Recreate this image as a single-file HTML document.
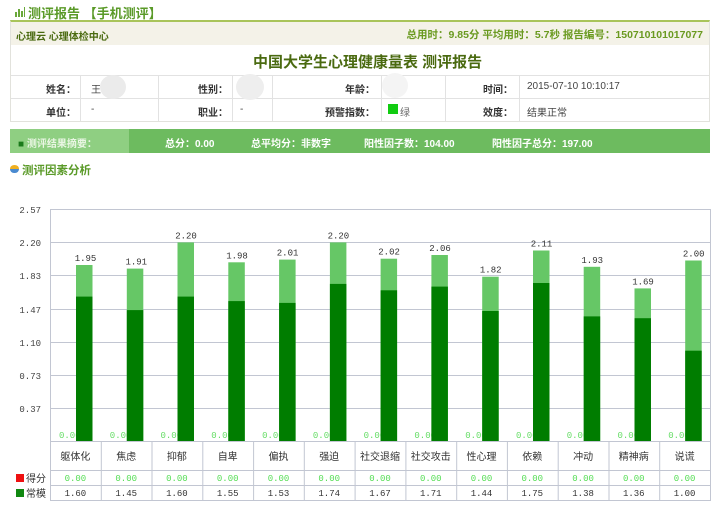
<!DOCTYPE html>
<html><head><meta charset="utf-8">
<style>
*{margin:0;padding:0;box-sizing:border-box}
body{width:725px;height:512px;background:#fff;position:relative;overflow:hidden;font-family:"Liberation Sans","Noto Sans CJK SC",sans-serif;}
.a{position:absolute;white-space:nowrap}
.lb{font-size:10px;font-weight:bold;color:#333;text-align:right}
.vl{font-size:10px;color:#444}
</style></head><body>
<!-- header -->
<div class="a" style="left:15px;top:7px;width:10px;height:10px">
  <div class="a" style="left:0;top:5px;width:2px;height:5px;background:#6aa83a"></div>
  <div class="a" style="left:3px;top:2px;width:2px;height:8px;background:#6aa83a"></div>
  <div class="a" style="left:6px;top:4px;width:2px;height:6px;background:#6aa83a"></div>
  <div class="a" style="left:9px;top:0px;width:1px;height:10px;background:#6aa83a"></div>
</div>
<div class="a" style="left:28px;top:3px;font-size:13px;font-weight:bold;color:#5a9a28">测评报告 【手机测评】</div>

<!-- info box -->
<div class="a" style="left:10px;top:20px;width:700px;height:102px;border:1px solid #e2e2dc;border-top:2px solid #a9c45a"></div>
<div class="a" style="left:11px;top:22px;width:698px;height:23px;background:#f4f2e8"></div>
<div class="a" style="left:16px;top:28px;font-size:10px;font-weight:bold;color:#4a6a10">心理云 心理体检中心</div>
<div class="a" style="right:22px;top:27px;font-size:10.5px;font-weight:bold;color:#6a9a20">总用时：9.85分 平均用时：5.7秒 报告编号：150710101017077</div>
<div class="a" style="left:253px;top:51px;font-size:15px;font-weight:bold;color:#4a6a10">中国大学生心理健康量表 测评报告</div>
<!-- rows lines -->
<div class="a" style="left:11px;top:75px;width:698px;height:1px;background:#e2e2e2"></div>
<div class="a" style="left:11px;top:98px;width:698px;height:1px;background:#e2e2e2"></div>
<div class="a" style="left:80px;top:75px;width:1px;height:46px;background:#e2e2e2"></div>
<div class="a" style="left:158px;top:75px;width:1px;height:46px;background:#e2e2e2"></div>
<div class="a" style="left:232px;top:75px;width:1px;height:46px;background:#e2e2e2"></div>
<div class="a" style="left:272px;top:75px;width:1px;height:46px;background:#e2e2e2"></div>
<div class="a" style="left:381px;top:75px;width:1px;height:46px;background:#e2e2e2"></div>
<div class="a" style="left:445px;top:75px;width:1px;height:46px;background:#e2e2e2"></div>
<div class="a" style="left:519px;top:75px;width:1px;height:46px;background:#e2e2e2"></div>
<!-- blur circles -->
<div class="a" style="left:100px;top:75px;width:26px;height:24px;border-radius:50%;background:#ebebeb"></div>
<div class="a" style="left:236px;top:74px;width:28px;height:26px;border-radius:50%;background:#eeeeee"></div>
<div class="a" style="left:382px;top:73px;width:26px;height:25px;border-radius:50%;background:#f4f4f4"></div>
<!-- labels row1 -->
<div class="a lb" style="left:10px;width:66px;top:81px">姓名：</div>
<div class="a vl" style="left:91px;top:81px">王</div>
<div class="a lb" style="left:158px;width:70px;top:81px">性别：</div>
<div class="a lb" style="left:272px;width:103px;top:81px">年龄：</div>
<div class="a lb" style="left:445px;width:68px;top:81px">时间：</div>
<div class="a vl" style="left:527px;top:81px">2015-07-10 10:10:17</div>
<!-- row2 -->
<div class="a lb" style="left:10px;width:66px;top:104px">单位：</div>
<div class="a vl" style="left:91px;top:104px">-</div>
<div class="a lb" style="left:158px;width:70px;top:104px">职业：</div>
<div class="a vl" style="left:240px;top:104px">-</div>
<div class="a lb" style="left:272px;width:103px;top:104px">预警指数：</div>
<div class="a" style="left:388px;top:104px;width:10px;height:10px;background:#11cc11"></div>
<div class="a vl" style="left:400px;top:104px;color:#666">绿</div>
<div class="a lb" style="left:445px;width:68px;top:104px">效度：</div>
<div class="a vl" style="left:527px;top:104px">结果正常</div>

<!-- summary bar -->
<div class="a" style="left:10px;top:129px;width:700px;height:24px;background:#6dbb5f"></div>
<div class="a" style="left:10px;top:129px;width:119px;height:24px;background:#8fcf82"></div>
<div class="a" style="left:18px;top:135px;font-size:10px;font-weight:bold;color:#eaf6e4"><span style="color:#1a7a1a">■</span> 测评结果摘要：</div>
<div class="a" style="left:165px;top:135px;font-size:10px;font-weight:bold;color:#fff">总分：0.00</div>
<div class="a" style="left:251px;top:135px;font-size:10px;font-weight:bold;color:#fff">总平均分：非数字</div>
<div class="a" style="left:364px;top:135px;font-size:10px;font-weight:bold;color:#fff">阳性因子数：104.00</div>
<div class="a" style="left:492px;top:135px;font-size:10px;font-weight:bold;color:#fff">阳性因子总分：197.00</div>

<!-- section heading -->
<div class="a" style="left:10px;top:165px;width:9px;height:7px;border-radius:50%;background:#f0b020"></div>
<div class="a" style="left:10px;top:169px;width:9px;height:4px;border-radius:0 0 5px 5px;background:#4a8ad0"></div>
<div class="a" style="left:22px;top:162px;font-size:11.5px;font-weight:bold;color:#5a9a28">测评因素分析</div>

<!-- chart -->
<svg class="a" style="left:0;top:0" width="725" height="512" viewBox="0 0 725 512">
<g stroke="#c2c6d2" stroke-width="1" fill="none">
<line x1="50" y1="209.5" x2="710" y2="209.5"/>
<line x1="50" y1="242.5" x2="710" y2="242.5"/>
<line x1="50" y1="275.5" x2="710" y2="275.5"/>
<line x1="50" y1="309.5" x2="710" y2="309.5"/>
<line x1="50" y1="342.5" x2="710" y2="342.5"/>
<line x1="50" y1="375.5" x2="710" y2="375.5"/>
<line x1="50" y1="408.5" x2="710" y2="408.5"/>
<line x1="50" y1="441.5" x2="710" y2="441.5"/>
<line x1="50" y1="470.5" x2="710" y2="470.5"/>
<line x1="50" y1="485.5" x2="710" y2="485.5"/>
<line x1="50" y1="500.5" x2="710" y2="500.5"/>
<line x1="50.5" y1="209" x2="50.5" y2="501"/>
<line x1="710.5" y1="209" x2="710.5" y2="501"/>
<line x1="101.3" y1="441" x2="101.3" y2="501"/>
<line x1="152.0" y1="441" x2="152.0" y2="501"/>
<line x1="202.8" y1="441" x2="202.8" y2="501"/>
<line x1="253.6" y1="441" x2="253.6" y2="501"/>
<line x1="304.3" y1="441" x2="304.3" y2="501"/>
<line x1="355.1" y1="441" x2="355.1" y2="501"/>
<line x1="405.9" y1="441" x2="405.9" y2="501"/>
<line x1="456.7" y1="441" x2="456.7" y2="501"/>
<line x1="507.4" y1="441" x2="507.4" y2="501"/>
<line x1="558.2" y1="441" x2="558.2" y2="501"/>
<line x1="609.0" y1="441" x2="609.0" y2="501"/>
<line x1="659.7" y1="441" x2="659.7" y2="501"/>
</g>
<g font-family="Liberation Mono, monospace" font-size="9" fill="#444" text-anchor="end">
<text x="41" y="213">2.57</text>
<text x="41" y="246">2.20</text>
<text x="41" y="279">1.83</text>
<text x="41" y="313">1.47</text>
<text x="41" y="346">1.10</text>
<text x="41" y="379">0.73</text>
<text x="41" y="412">0.37</text>
</g>
<g font-family="Liberation Mono, monospace" font-size="9" fill="#66dd66">
<text x="59" y="438">0.00</text>
<text x="109.8" y="438">0.00</text>
<text x="160.5" y="438">0.00</text>
<text x="211.3" y="438">0.00</text>
<text x="262.1" y="438">0.00</text>
<text x="312.9" y="438">0.00</text>
<text x="363.6" y="438">0.00</text>
<text x="414.4" y="438">0.00</text>
<text x="465.2" y="438">0.00</text>
<text x="516" y="438">0.00</text>
<text x="566.7" y="438">0.00</text>
<text x="617.5" y="438">0.00</text>
<text x="668.2" y="438">0.00</text>
</g>
<g fill="#66c766">
<rect x="76" y="265" width="16.5" height="176"/>
<rect x="126.8" y="268.6" width="16.5" height="172.4"/>
<rect x="177.5" y="242.4" width="16.5" height="198.6"/>
<rect x="228.3" y="262.3" width="16.5" height="178.7"/>
<rect x="279.1" y="259.6" width="16.5" height="181.4"/>
<rect x="329.9" y="242.4" width="16.5" height="198.6"/>
<rect x="380.6" y="258.7" width="16.5" height="182.3"/>
<rect x="431.4" y="255" width="16.5" height="186"/>
<rect x="482.2" y="276.7" width="16.5" height="164.3"/>
<rect x="533" y="250.5" width="16.5" height="190.5"/>
<rect x="583.7" y="266.8" width="16.5" height="174.2"/>
<rect x="634.5" y="288.4" width="16.5" height="152.6"/>
<rect x="685.2" y="260.5" width="16.5" height="180.5"/>
</g>
<g fill="#007d00">
<rect x="76" y="296.6" width="16.5" height="144.4"/>
<rect x="126.8" y="310.1" width="16.5" height="130.9"/>
<rect x="177.5" y="296.6" width="16.5" height="144.4"/>
<rect x="228.3" y="301.1" width="16.5" height="139.9"/>
<rect x="279.1" y="302.9" width="16.5" height="138.1"/>
<rect x="329.9" y="283.9" width="16.5" height="157.1"/>
<rect x="380.6" y="290.3" width="16.5" height="150.7"/>
<rect x="431.4" y="286.6" width="16.5" height="154.4"/>
<rect x="482.2" y="311" width="16.5" height="130"/>
<rect x="533" y="283" width="16.5" height="158"/>
<rect x="583.7" y="316.4" width="16.5" height="124.6"/>
<rect x="634.5" y="318.2" width="16.5" height="122.8"/>
<rect x="685.2" y="350.7" width="16.5" height="90.3"/>
</g>
<g font-family="Liberation Mono, monospace" font-size="9" fill="#333" text-anchor="middle">
<text x="85.5" y="261">1.95</text>
<text x="136.3" y="264.6">1.91</text>
<text x="186" y="238.4">2.20</text>
<text x="237" y="258.3">1.98</text>
<text x="287.6" y="255.6">2.01</text>
<text x="338.4" y="238.4">2.20</text>
<text x="389.1" y="254.7">2.02</text>
<text x="440" y="251">2.06</text>
<text x="490.7" y="272.7">1.82</text>
<text x="541.5" y="246.5">2.11</text>
<text x="592.2" y="262.8">1.93</text>
<text x="643" y="284.4">1.69</text>
<text x="693.7" y="256.5">2.00</text>
</g>
<g font-family="Liberation Sans, Noto Sans CJK SC, sans-serif" font-size="10" fill="#333" text-anchor="middle">
<text x="75.4" y="460">躯体化</text>
<text x="126.2" y="460">焦虑</text>
<text x="176.9" y="460">抑郁</text>
<text x="227.7" y="460">自卑</text>
<text x="278.5" y="460">偏执</text>
<text x="329.2" y="460">强迫</text>
<text x="380" y="460">社交退缩</text>
<text x="430.8" y="460">社交攻击</text>
<text x="481.5" y="460">性心理</text>
<text x="532.3" y="460">依赖</text>
<text x="583.1" y="460">冲动</text>
<text x="633.8" y="460">精神病</text>
<text x="684.6" y="460">说谎</text>
</g>
<g font-family="Liberation Mono, monospace" font-size="9" fill="#55dd55" text-anchor="middle">
<text x="75.4" y="481">0.00</text>
<text x="126.2" y="481">0.00</text>
<text x="176.9" y="481">0.00</text>
<text x="227.7" y="481">0.00</text>
<text x="278.5" y="481">0.00</text>
<text x="329.2" y="481">0.00</text>
<text x="380" y="481">0.00</text>
<text x="430.8" y="481">0.00</text>
<text x="481.5" y="481">0.00</text>
<text x="532.3" y="481">0.00</text>
<text x="583.1" y="481">0.00</text>
<text x="633.8" y="481">0.00</text>
<text x="684.6" y="481">0.00</text>
</g>
<g font-family="Liberation Mono, monospace" font-size="9" fill="#333" text-anchor="middle">
<text x="75.4" y="496">1.60</text>
<text x="126.2" y="496">1.45</text>
<text x="176.9" y="496">1.60</text>
<text x="227.7" y="496">1.55</text>
<text x="278.5" y="496">1.53</text>
<text x="329.2" y="496">1.74</text>
<text x="380" y="496">1.67</text>
<text x="430.8" y="496">1.71</text>
<text x="481.5" y="496">1.44</text>
<text x="532.3" y="496">1.75</text>
<text x="583.1" y="496">1.38</text>
<text x="633.8" y="496">1.36</text>
<text x="684.6" y="496">1.00</text>
</g>
<rect x="16" y="474" width="8" height="8" fill="#ee1111"/>
<rect x="16" y="489" width="8" height="8" fill="#118811"/>
<g font-family="Liberation Sans, Noto Sans CJK SC, sans-serif" font-size="10" fill="#333">
<text x="26" y="482">得分</text>
<text x="26" y="497">常模</text>
</g>
</svg>
</body></html>
